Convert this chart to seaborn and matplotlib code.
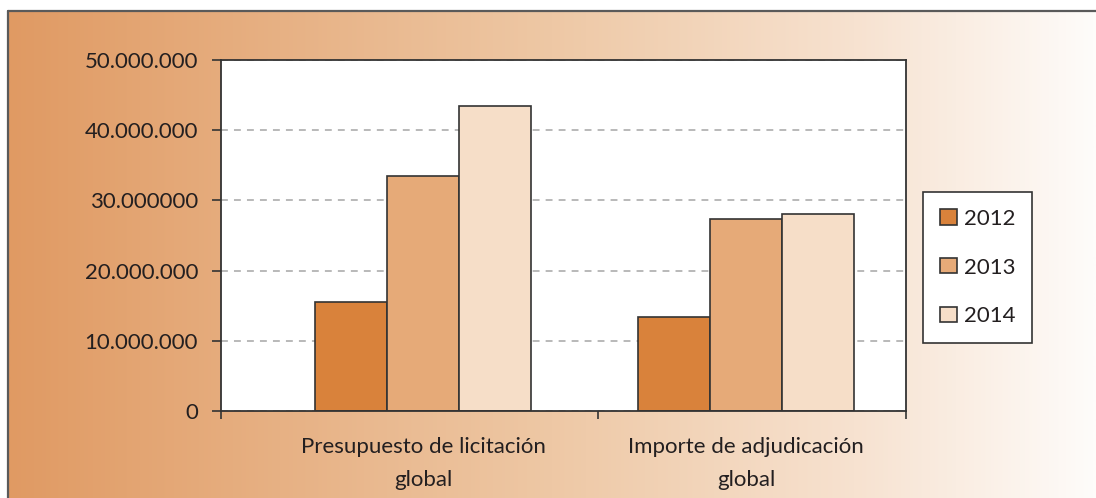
import numpy as np
import pandas as pd
import matplotlib
matplotlib.use("Agg")
import matplotlib.pyplot as plt
from matplotlib.colors import LinearSegmentedColormap
from matplotlib.patches import Patch
import seaborn as sns

# ---- data ----
categories = ["Presupuesto de licitación\nglobal", "Importe de adjudicación\nglobal"]
years = ["2012", "2013", "2014"]
values_2012 = [15.5e6, 13.35e6]
values_2013 = [33.5e6, 27.4e6]
values_2014 = [43.4e6, 28.1e6]
ytick_values = [0, 10e6, 20e6, 30e6, 40e6, 50e6]
ytick_labels = ["0", "10.000.000", "20.000.000", "30.000000", "40.000.000", "50.000.000"]
colors = ["#D9823B", "#E6AA78", "#F6DEC8"]

df = pd.DataFrame({
    "cat": categories * 3,
    "year": [y for y in years for _ in categories],
    "value": values_2012 + values_2013 + values_2014,
})

sns.set_theme(style="white")
plt.rcParams["font.family"] = ["Lato", "DejaVu Sans"]
TXT = "#231F20"
FS = 16

W, H = 1096, 498
fig = plt.figure(figsize=(W / 100, H / 100), dpi=100, facecolor="white")

# background gradient panel
bg = fig.add_axes([8 / W, 0, 1 - 8 / W, (H - 11) / H])
cmap = LinearSegmentedColormap.from_list("bg", [
    (0.0, (224/255, 154/255, 99/255)),
    (0.5, (238/255, 200/255, 165/255)),
    (0.78, (247/255, 226/255, 208/255)),
    (1.0, (254/255, 252/255, 250/255)),
])
bg.imshow(np.linspace(0, 1, 512)[None, :], aspect="auto", cmap=cmap, extent=[0, 1, 0, 1])
bg.set_axis_off()
fig.add_artist(plt.Line2D([8 / W, 1], [(H - 11) / H] * 2, transform=fig.transFigure, color="#5a5a5a", lw=1.6))
fig.add_artist(plt.Line2D([8 / W] * 2, [0, (H - 11) / H], transform=fig.transFigure, color="#5a5a5a", lw=1.6))

# main axes
x0, x1, y0, y1 = 221, 906, 60, 411
ax = fig.add_axes([x0 / W, (H - y1) / H, (x1 - x0) / W, (y1 - y0) / H])
ax.set_facecolor("white")
ax.set_axisbelow(True)
sns.barplot(data=df, x="cat", y="value", hue="year", palette=colors, width=0.669,
            saturation=1, edgecolor="#333333", linewidth=1.2, legend=False, ax=ax)

c0, c1 = 423, 746
ppu = c1 - c0
xl = -(c0 - x0) / ppu
xr = 1 + (x1 - c1) / ppu
ax.set_xlim(xl, xr)
ax.set_ylim(0, 50e6)
ax.set_xlabel("")
ax.set_ylabel("")

ax.set_yticks(ytick_values)
ax.set_yticklabels(ytick_labels, fontsize=FS, color=TXT)
ax.tick_params(axis="y", left=True, length=6.5, width=1.2, color="#333333", pad=10)

ax.set_xticks([0, 1])
ax.set_xticklabels(categories, fontsize=FS, color=TXT, linespacing=1.8)
ax.tick_params(axis="x", which="major", bottom=False, length=0, pad=19)
ax.set_xticks([xl, (598 - c0) / ppu, xr], minor=True)
ax.tick_params(axis="x", which="minor", bottom=True, length=6, width=1.2, color="#333333")

ax.yaxis.grid(True, color="#A6A6A6", linestyle=(0, (4.5, 4)), linewidth=1.1)
ax.xaxis.grid(False)
for s in ax.spines.values():
    s.set_visible(True)
    s.set_color("#333333")
    s.set_linewidth(1.3)

handles = [Patch(facecolor=c, edgecolor="#333333", linewidth=1.2, label=y) for c, y in zip(colors, years)]
leg = ax.legend(handles=handles, loc="upper left", bbox_to_anchor=(923 / W, 1 - 192 / H),
                bbox_transform=fig.transFigure, fontsize=FS, frameon=True, fancybox=False,
                edgecolor="#333333", facecolor="white", framealpha=1, labelspacing=1.3,
                handlelength=0.8, handleheight=0.68, handletextpad=0.3, borderpad=0.75,
                borderaxespad=0)
leg.get_frame().set_linewidth(1.2)
for t in leg.get_texts():
    t.set_color(TXT)

fig.savefig("out.png", dpi=100, facecolor="white")
